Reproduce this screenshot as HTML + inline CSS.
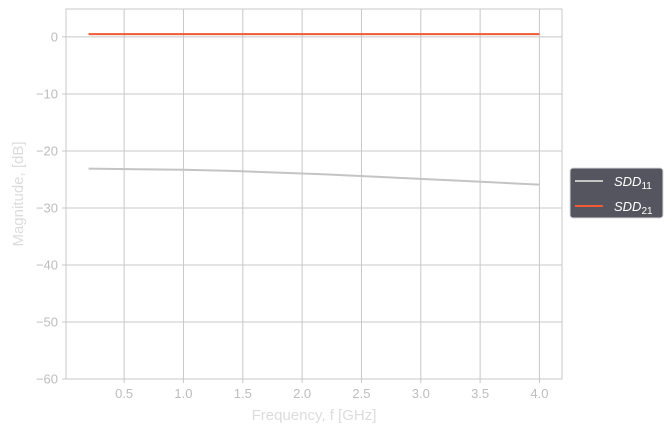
<!DOCTYPE html>
<html><head><meta charset="utf-8"><style>
body{margin:0;background:#fff;width:672px;height:433px;overflow:hidden;font-family:"Liberation Sans",sans-serif}
</style></head><body>
<svg id="chart" width="672" height="433" xmlns="http://www.w3.org/2000/svg"></svg>
<script>
const freqs=[0.2,0.6,1.0,1.4,1.8,2.2,2.6,3.0,3.4,3.8,4.0];
const sdd11=[-23.1,-23.2,-23.3,-23.5,-23.8,-24.1,-24.5,-24.9,-25.3,-25.7,-25.9];
const sdd21=[0.5,0.5,0.5,0.5,0.5,0.5,0.5,0.5,0.5,0.5,0.5];
const xTicks=[0.5,1.0,1.5,2.0,2.5,3.0,3.5,4.0];
const yTicks=[0,-10,-20,-30,-40,-50,-60];
const L=66,R=562,T=9,B=379,xmin=0.01,xmax=4.19,ymin=-60,ymax=4.9;
const sx=v=>L+(v-xmin)/(xmax-xmin)*(R-L);
const sy=v=>B-(v-ymin)/(ymax-ymin)*(B-T);
const svg=document.getElementById('chart');
const NS='http://www.w3.org/2000/svg';
function mk(t,a,p){const e=document.createElementNS(NS,t);for(const k in a)e.setAttribute(k,a[k]);(p||svg).appendChild(e);return e;}
let e;
for(const t of xTicks){
e=mk('line',{x1:sx(t),x2:sx(t),y1:T,y2:B+4,stroke:'#c8c8c8','stroke-width':1});


e=mk('text',{x:sx(t),y:B+19,'text-anchor':'middle','font-size':13,fill:'#bdbdbd'});e.textContent=t.toFixed(1);


}
for(const t of yTicks){
e=mk('line',{x1:L-4,x2:R,y1:sy(t),y2:sy(t),stroke:'#c8c8c8','stroke-width':1});


e=mk('text',{x:L-8,y:sy(t)+4.5,'text-anchor':'end','font-size':13,fill:'#bdbdbd'});e.textContent=(t<0?'\u2212'+(-t):t);


}
e=mk('rect',{x:L,y:T,width:R-L,height:B-T,fill:'none',stroke:'#c8c8c8'});


function series(vals,col,name){
const d=freqs.map((f,i)=>(i?'L':'M')+sx(f)+','+sy(vals[i])).join(' ');
const p=mk('path',{d:d,fill:'none',stroke:col,'stroke-width':2});


}
series(sdd11,'#c4c4c4','sdd11-line');
series(sdd21,'#f05a35','sdd21-line');
e=mk('text',{x:(L+R)/2,y:420,'text-anchor':'middle','font-size':15,fill:'#dcdcdc'});e.textContent='Frequency, f [GHz]';


e=mk('text',{x:23,y:(T+B)/2,'text-anchor':'middle','font-size':15,fill:'#dcdcdc',transform:'rotate(-90 23 '+((T+B)/2)+')'});e.textContent='Magnitude, [dB]';


const g=mk('g',{});


mk('rect',{x:570,y:168,width:93,height:50,rx:3,fill:'#55555f',stroke:'#d8d8d8'},g);
const items=[['#c4c4c4','11','legend-entry-sdd11'],['#f05a35','21','legend-entry-sdd21']];
items.forEach((it,i)=>{const y=181+i*25;
const gi=mk('g',{},g);


mk('line',{x1:575,x2:603,y1:y,y2:y,stroke:it[0],'stroke-width':2},gi);
const t=mk('text',{x:614,y:y+5,'font-size':13,fill:'#fff','font-style':'italic'},gi);
t.textContent='SDD';
const s=mk('tspan',{'font-size':10,dy:3,'font-style':'normal'},t);s.textContent=it[1];
});
</script>
</body></html>
